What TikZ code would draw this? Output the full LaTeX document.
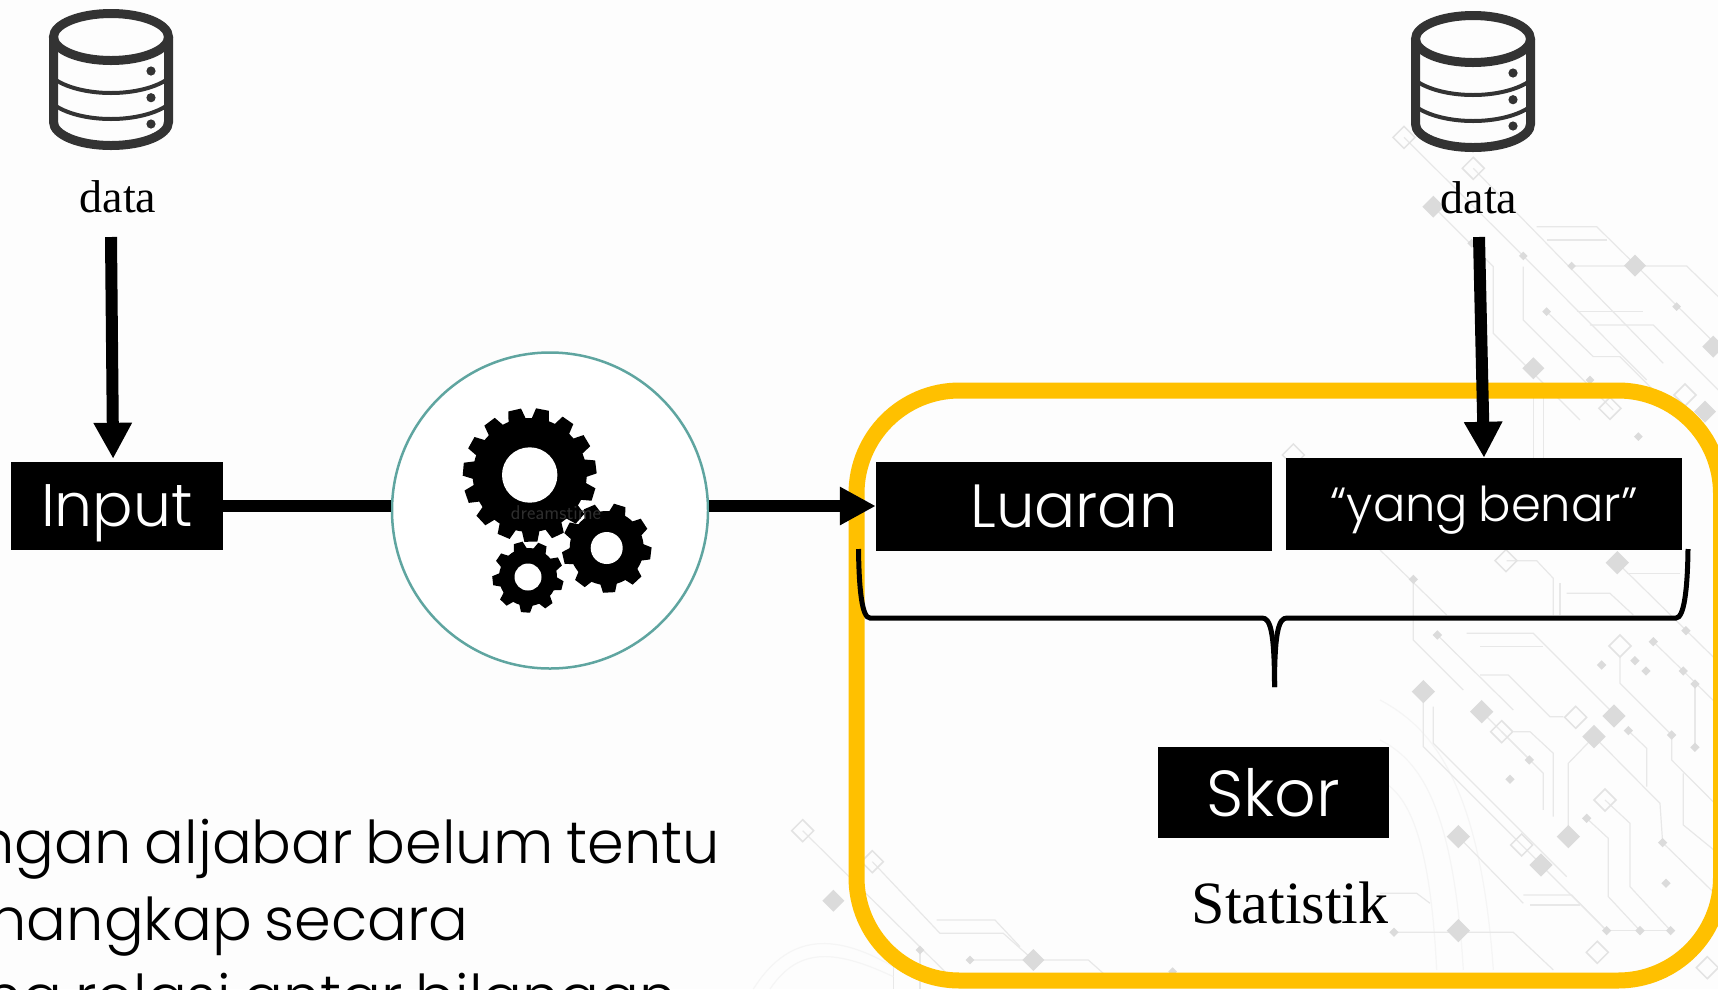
\documentclass[tikz,border=0pt]{standalone}
\usepackage{fontspec}
\setmainfont{Liberation Serif}
\newfontfamily\boxfont{Poppins}[UprightFont=* Light]
\newfontfamily\bodyfont{Poppins}[UprightFont=* Light,WordSpace=0.8]
\usetikzlibrary{arrows.meta}
\definecolor{skoryellow}{RGB}{255,192,0}
\definecolor{circleteal}{RGB}{95,165,160}
\definecolor{iconcolor}{RGB}{51,51,51}
\definecolor{paperwhite}{RGB}{253,253,253}
\tikzset{
  blackbox/.style={fill=black,text=white,inner sep=0pt,text depth=0pt,font=\boxfont},
  serifnote/.style={inner sep=0pt,anchor=base,text=black},
  thickarrow/.style={line width=12pt,-{Triangle[width=36pt,length=36pt]}},
  thickline/.style={line width=12pt},
  bodytext/.style={inner sep=0pt,anchor=base east,text=black,font=\bodyfont\fontsize{59}{59}\selectfont},
  circuitline/.style={draw=black!9,line width=1.2pt},
  circuitfaint/.style={draw=black!4,line width=1.2pt},
  circuitfill/.style={fill=black!14},
  circuitopen/.style={draw=black!11,line width=1.5pt},
  zoomgrid/.style={x=.3333pt,y=-.3333pt},
  pics/dbicon/.style={code={
    \draw[iconcolor,line width=9pt] (0,28) ellipse (57.5 and 23.5);
    \draw[iconcolor,line width=9pt] (-57.5,28) -- (-57.5,113) .. controls (-57.5,126) and (-32,136.5) .. (0,136.5) .. controls (32,136.5) and (57.5,126) .. (57.5,113) -- (57.5,28);
    \draw[iconcolor,line width=4pt] (-58,69) .. controls (-45,79) and (-22,84) .. (0,84) .. controls (22,84) and (45,79) .. (58,69);
    \draw[iconcolor,line width=4pt] (-58,95) .. controls (-45,105) and (-22,110) .. (0,110) .. controls (22,110) and (45,105) .. (58,95);
    \foreach \doty in {62,88.7,115} \fill[iconcolor] (40,\doty) circle (4.6);
  }}
}
% center x, center y, hole, body, tip, teeth, tooth width, first angle
\newcommand{\gearwheel}[8]{
  \fill (#1,#2) circle (#4);
  \foreach \k in {1,...,#6}
    \fill[shift={(#1,#2)},rotate=#8+\k*360/#6] (#4-2,-#7/2-1.5) -- (#5,-#7/2+1) -- (#5,#7/2-1) -- (#4-2,#7/2+1.5) -- cycle;
  \fill[white] (#1,#2) circle (#3);
}
\begin{document}
\begin{tikzpicture}[x=1pt,y=-1pt]
\useasboundingbox (0,0) rectangle (1718,989);
\clip (0,0) rectangle (1718,989);
\fill[paperwhite] (0,0) rectangle (1718,989);

% circuit pattern
\begin{scope}[shift={(1380,540)},zoomgrid]
\foreach \pts in {
  {(0,480) .. controls (150,560) and (300,720) .. (340,1290)},{(0,600) .. controls (120,660) and (220,800) .. (250,1290)},{(0,720) .. controls (80,760) and (150,880) .. (170,1290)}}
  \draw[circuitfaint] \pts;
\foreach \pts in {
  {(100,118)--(100,300)--(250,450)},{(172,285)--(400,510)},{(260,280)--(460,280)--(720,540)},{(300,320)--(490,320)},
  {(300,405)--(385,405)--(510,530)--(550,530)},{(130,455)--(130,620)--(500,990)},{(160,500)--(160,610)--(560,1010)},
  {(305,515)--(490,700)--(490,810)},{(365,575)--(450,660)},{(400,575)--(450,575)--(520,640)--(520,830)},
  {(642,590)--(565,670)--(565,890)},{(642,590)--(840,790)--(848,908)--(1014,1070)},{(745,572)--(800,625)--(800,740)},
  {(720,350)--(720,430)--(875,585)--(875,660)--(1014,800)},{(945,432)--(945,622)},{(910,700)--(910,855)--(1014,940)},
  {(675,780)--(750,850)--(750,1040)--(872,1172)},{(620,835)--(685,895)--(685,1070)--(780,1172)},{(680,1172)--(872,1172)},
  {(42,1177)--(400,1177)--(520,1290)},{(430,1065)--(575,1065)--(680,1172)},{(450,1095)--(600,1095)},
  {(712,68)--(1014,365)},{(740,100)--(900,100)},{(560,160)--(690,160)--(760,225)},{(540,130)--(540,225)},
  {(380,62)--(470,62)--(520,115)--(520,225)},{(820,305)--(1014,495)},{(235,890)--(430,1090)},{(483,975)--(680,1172)},
  {(0,1060)--(110,1060)--(150,1090)},{(0,30)--(200,225)}}
  \draw[circuitline] \pts;
\foreach \px/\py in {130/455,305/515,702/528,642/590,712/68,235/890,565/890,483/975,235/1172}
  \fill[circuitfill] (\px-35,\py) -- (\px,\py-35) -- (\px+35,\py) -- (\px,\py+35) -- cycle;
\foreach \px/\py in {100/118,172/285,918/272,820/305,765/362,665/375,798/393,910/393,945/432,875/585,945/622,745/572,448/660,390/718,620/835,848/908,858/1030,872/1172,780/1172,680/1172,42/1177}
  \fill[circuitfill] (\px-14,\py) -- (\px,\py-14) -- (\px+14,\py) -- (\px,\py+14) -- cycle;
\foreach \px/\py in {378/62,720/318,365/575,587/532,675/780,425/915,652/1237,982/1283}
  \draw[circuitopen] (\px-33,\py) -- (\px,\py-33) -- (\px+33,\py) -- (\px,\py+33) -- cycle;
\end{scope}
\begin{scope}[shift={(1280,100)},zoomgrid]
\foreach \pts in {
  {(372,112)--(730,468)--(1100,840)},{(580,205)--(1150,790)},{(460,320)--(640,500)--(640,700)--(900,960)},{(730,500)--(730,660)--(1000,930)},
  {(800,635)--(940,770)--(1020,770)--(1200,950)},{(770,380)--(950,380)--(1315,740)},{(800,420)--(980,420)},{(875,498)--(1220,498)--(1315,590)},
  {(890,635)--(1090,635)},{(930,675)--(1120,675)--(1315,870)},{(760,895)--(760,1075)},{(790,895)--(790,1075)}}
  \draw[circuitline] \pts;
\foreach \px/\py in {460/320,1065/497,760/805,1300/740,1275/935}
  \fill[circuitfill] (\px-33,\py) -- (\px,\py-33) -- (\px+33,\py) -- (\px,\py+33) -- cycle;
\foreach \px/\py in {575/430,730/468,800/635,875/498,1190/620,930/840,1075/1010}
  \fill[circuitfill] (\px-13,\py) -- (\px,\py-13) -- (\px+13,\py) -- (\px,\py+13) -- cycle;
\foreach \px/\py in {372/112,580/205,990/925,1215/885,40/1065}
  \draw[circuitopen] (\px-33,\py) -- (\px,\py-33) -- (\px+33,\py) -- (\px,\py+33) -- cycle;
\end{scope}
\begin{scope}[shift={(720,780)},zoomgrid]
\foreach \pts in {
  {(248,152)--(700,600)},{(457,245)--(660,460)--(850,460)--(940,540)},{(650,420)--(825,420)--(900,500)},{(750,540)--(1105,540)--(1150,580)},
  {(520,560)--(520,627)},{(600,510)--(600,627)}}
  \draw[circuitline] \pts;
\foreach \pts in {{(100,627) .. controls (200,470) and (330,450) .. (520,560)},{(150,627) .. controls (230,510) and (330,500) .. (520,590)}}
  \draw[circuitfaint] \pts;
\foreach \px/\py in {340/362,940/540}
  \fill[circuitfill] (\px-33,\py) -- (\px,\py-33) -- (\px+33,\py) -- (\px,\py+33) -- cycle;
\foreach \px/\py in {600/510,750/540,1358/575}
  \fill[circuitfill] (\px-13,\py) -- (\px,\py-13) -- (\px+13,\py) -- (\px,\py+13) -- cycle;
\foreach \px/\py in {248/152,457/245}
  \draw[circuitopen] (\px-33,\py) -- (\px,\py-33) -- (\px+33,\py) -- (\px,\py+33) -- cycle;
\end{scope}

\draw[skoryellow,line width=16pt,rounded corners=103pt] (856.5,390.5) rectangle (1721,980.5);

\pic at (111,9) {dbicon};
\pic at (1473,11) {dbicon};
\node[serifnote,font=\fontsize{46}{46}\selectfont] (dataleft) at (118,212) {data};
\node[serifnote,font=\fontsize{46}{46}\selectfont] (dataright) at (1479,213) {data};
\coordinate (dataleftfoot) at (111,237);
\coordinate (datarightfoot) at (1479,237);

\node[blackbox,minimum width=212pt,minimum height=88pt,font=\boxfont\fontsize{60}{60}\selectfont] (inputbox) at (117,506) {Input};
\node[blackbox,minimum width=396pt,minimum height=89pt,font=\boxfont\fontsize{61}{61}\selectfont] (luaranbox) at (1074,506) {Luaran};
\node[blackbox,minimum width=396pt,minimum height=92pt,font=\boxfont\fontsize{48}{48}\selectfont] (yangbox) at (1484,504) {“yang benar”};
\node[blackbox,minimum width=231pt,minimum height=91pt,font=\boxfont\fontsize{65}{65}\selectfont] (skorbox) at (1273,792.5) {Skor};
\node[serifnote,font=\fontsize{60}{60}\selectfont] (statistik) at (1290,923) {Statistik};

\node[circle,draw=circleteal,fill=white,line width=2.5pt,minimum size=316pt,inner sep=0pt] (gearcircle) at (550,510.5) {};
\draw[thickline] (inputbox.east) -- (gearcircle.west |- inputbox.east);
\draw[thickarrow] (gearcircle.east |- luaranbox.west) -- (luaranbox.west);
\draw[thickarrow,shorten >=3pt] (dataleftfoot) -- (inputbox.95);
\draw[thickarrow] (datarightfoot) -- (yangbox.north);

\gearwheel{529.7}{475}{27.7}{57}{66.7}{15}{15}{7}
\gearwheel{606.7}{548}{16}{37}{44.5}{9}{14}{33}
\gearwheel{528}{577}{13.5}{29}{35.5}{9}{11}{26}
\node[inner sep=0pt,text=black!82,font=\sffamily\fontsize{20}{20}\selectfont] (watermark) at (556,513) {dreamstime};

\draw[line width=5pt] (858.5,549) .. controls (859,590) and (862,618) .. (870,618) -- (1262,618) .. controls (1270,618) and (1274.5,630) .. (1274.5,687);
\draw[line width=5pt] (1688,549) .. controls (1687.5,590) and (1684,618) .. (1676,618) -- (1287,618) .. controls (1279,618) and (1274.5,630) .. (1274.5,687);

\node[bodytext] (lineone) at (720,863) {ngan aljabar belum tentu};
\node[bodytext] (linetwo) at (469,940) {nangkap secara};
\node[bodytext] (linethree) at (677,1017) {na relasi antar bilangan};
\end{tikzpicture}
\end{document}
